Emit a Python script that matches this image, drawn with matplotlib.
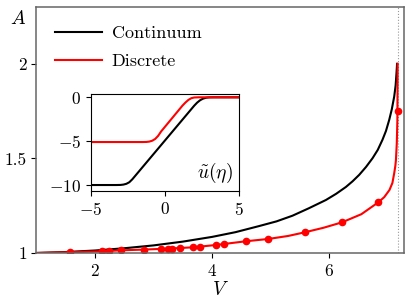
import matplotlib
matplotlib.use("Agg")
import matplotlib.pyplot as plt

plt.rcParams['font.family'] = 'serif'
plt.rcParams['font.serif'] = ['cmr10']
plt.rcParams['mathtext.fontset'] = 'cm'
plt.rcParams['axes.formatter.use_mathtext'] = True
plt.rcParams['axes.unicode_minus'] = True

# continuum branch A(V)
V_cont = [1.0, 1.5, 2.0, 2.5, 3.0, 3.5, 4.0, 4.4, 4.8, 5.1, 5.373, 5.65,
          5.944, 6.12, 6.286, 6.4, 6.513, 6.63, 6.741, 6.83, 6.91, 6.97,
          7.026, 7.07, 7.111, 7.135, 7.15, 7.16]
A_cont = [1.0, 1.005, 1.013, 1.025, 1.04, 1.06, 1.085, 1.11, 1.142, 1.167,
          1.197, 1.236, 1.28, 1.313, 1.349, 1.379, 1.413, 1.455, 1.501, 1.545,
          1.598, 1.645, 1.704, 1.76, 1.827, 1.885, 1.95, 2.0]

# discrete branch, line and markers
V_disc_line = [1.0, 1.57, 2.12, 2.45, 2.84, 3.25, 3.68, 4.06, 4.58, 4.96,
               5.3, 5.58, 5.9, 6.22, 6.55, 6.84, 6.94, 7.03, 7.08, 7.11,
               7.13, 7.14, 7.155, 7.165, 7.17]
A_disc_line = [1.0, 1.004, 1.009, 1.014, 1.018, 1.023, 1.030, 1.042, 1.062,
               1.074, 1.09, 1.109, 1.133, 1.162, 1.205, 1.268, 1.295, 1.333,
               1.37, 1.42, 1.46, 1.49, 1.58, 1.7, 2.0]
V_disc_pts = [1.57, 2.12, 2.24, 2.45, 2.84, 3.13, 3.25, 3.32, 3.46, 3.68,
              3.80, 4.06, 4.2, 4.58, 4.96, 5.58, 6.22, 6.84, 7.17]
A_disc_pts = [1.004, 1.009, 1.011, 1.014, 1.018, 1.021, 1.023, 1.023, 1.026,
              1.030, 1.034, 1.042, 1.046, 1.062, 1.074, 1.109, 1.162, 1.268,
              1.748]
V_max = 7.17

# inset profiles u(eta)
eta_cont = [-5.0, -3.3, -3.0, -2.8, -2.6, -2.4, -2.2, -2.0, 2.0, 2.2, 2.4,
            2.6, 2.8, 3.0, 3.3, 5.0]
u_cont = [-10.0, -10.0, -9.99, -9.95, -9.86, -9.68, -9.35, -8.95, -0.95,
          -0.6, -0.33, -0.15, -0.05, -0.01, 0.0, 0.0]
eta_disc = [-5.0, -1.5, -1.25, -1.05, -0.85, -0.65, -0.45, -0.25, 1.2, 1.4,
            1.6, 1.8, 2.0, 2.3, 5.0]
u_disc = [-5.1, -5.1, -5.09, -5.05, -4.95, -4.75, -4.4, -3.9, -0.95, -0.6,
          -0.3, -0.1, -0.02, 0.0, 0.0]

fig = plt.figure(figsize=(4.11, 3.07), dpi=100)
ax = fig.add_axes([0.0888, 0.176, 0.893, 0.801])

ax.axvline(V_max, color='0.6', ls=':', lw=0.8)
ax.plot(V_cont, A_cont, color='black', lw=1.5, label='Continuum')
ax.plot(V_disc_line, A_disc_line, color='red', lw=1.5, label='Discrete')
ax.plot(V_disc_pts, A_disc_pts, 'o', color='red', ms=4.5)

ax.set_xlim(1, 7.27)
ax.set_ylim(1, 2.3)
ax.set_xticks([2, 4, 6])
ax.set_yticks([1, 1.5, 2])
ax.set_yticklabels(['1', '1.5', '2'])
ax.tick_params(labelsize=12.5, length=3.5, width=0.8)
for s in ax.spines.values():
    s.set_color('0.4')
    s.set_linewidth(1.1)
ax.set_xlabel('$V$', fontsize=14, labelpad=2)
ax.set_ylabel('$A$', fontsize=14, rotation=0)
ax.yaxis.set_label_coords(-0.05, 0.915)

ax.legend(loc='upper left', frameon=False, fontsize=13, handlelength=2.6,
          handletextpad=0.55, borderaxespad=0.3, bbox_to_anchor=(0.015, 0.975),
          labelspacing=0.65)

ins = fig.add_axes([0.2214, 0.3779, 0.3589, 0.316])
ins.plot(eta_cont, u_cont, color='black', lw=1.5)
ins.plot(eta_disc, u_disc, color='red', lw=1.5)
ins.set_xlim(-5, 5)
ins.set_ylim(-10.68, 0.38)
ins.set_xticks([-5, 0, 5])
ins.set_yticks([-10, -5, 0])
ins.tick_params(labelsize=12.5, length=3.5, width=0.8)
ins.text(0.96, 0.06, r'$\tilde{u}(\eta)$', transform=ins.transAxes,
         ha='right', va='bottom', fontsize=14)

fig.savefig('out.png', dpi=100)
